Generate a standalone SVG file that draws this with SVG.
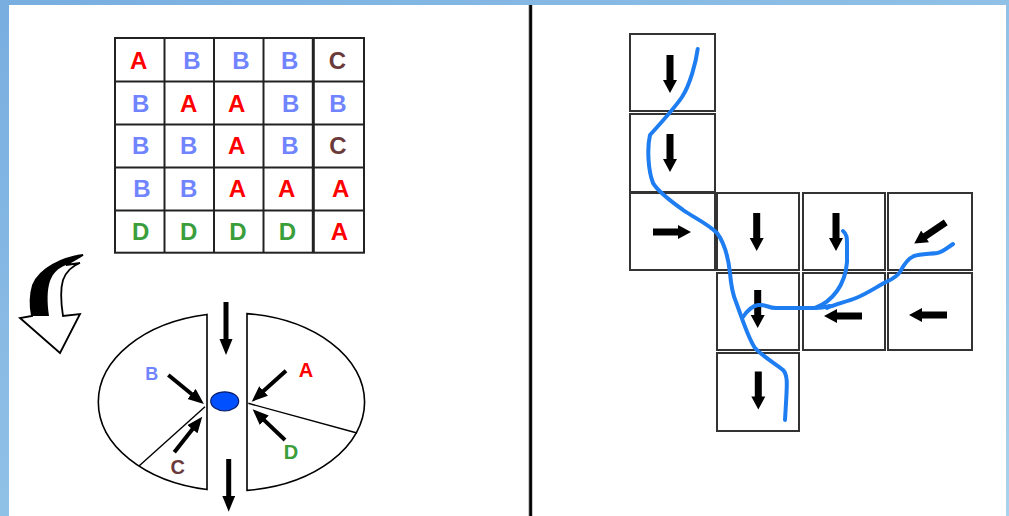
<svg xmlns="http://www.w3.org/2000/svg" xmlns:xlink="http://www.w3.org/1999/xlink" width="1009" height="516" viewBox="0 0 1009 516">
  <defs>
    <linearGradient id="bg" x1="0" y1="0" x2="1" y2="1">
      <stop offset="0" stop-color="#78AEE0"/>
      <stop offset="1" stop-color="#A8D3EC"/>
    </linearGradient>
    <marker id="ah" markerUnits="userSpaceOnUse" markerWidth="18" markerHeight="14" refX="2" refY="6.5" orient="auto">
      <path d="M0,0 L16,6.5 L0,13 Z" fill="#000"/>
    </marker>
    <path id="blk" d="M-3.5,-19 L3.5,-19 L3.5,6 L7,6 L0,19 L-7,6 L-3.5,6 Z" fill="#000"/>
    <style>
      .cell { fill: #fff; stroke: #222; stroke-width: 2; }
      .box { fill: #fff; stroke: #333; stroke-width: 2; }
      .lt { font-family: "Liberation Sans", Arial, sans-serif; font-weight: bold; font-size: 24px; text-anchor: middle; }
      .lb { font-family: "Liberation Sans", Arial, sans-serif; font-weight: bold; text-anchor: middle; }
      .ra { fill: #FF0000; }
      .bb { fill: #7084FF; }
      .cc { fill: #6B3A3A; }
      .dd { fill: #3A9E3A; }
      .flow { fill: none; stroke: #1E7DF0; stroke-width: 4; stroke-linecap: round; stroke-linejoin: round; }
      .arr { fill: none; stroke: #000; marker-end: url(#ah); }
      .half { fill: #fff; stroke: #000; stroke-width: 1.6; }
    </style>
  </defs>

  <!-- background frame -->
  <rect x="0" y="0" width="1009" height="516" fill="url(#bg)"/>
  <rect x="9" y="5" width="997" height="511" fill="#fff"/>
  <!-- divider -->
  <rect x="528.5" y="5" width="4" height="511" fill="#999"/>
  <rect x="529.3" y="5" width="2.6" height="511" fill="#000"/>

  <!-- letter grid -->
  <g id="grid">
    <rect class="cell" x="115" y="38" width="249" height="214.7"/>
    <g stroke="#222" stroke-width="2">
      <line x1="164.5" y1="38" x2="164.5" y2="252.7"/>
      <line x1="214" y1="38" x2="214" y2="252.7"/>
      <line x1="263.5" y1="38" x2="263.5" y2="252.7"/>
      <line x1="313.3" y1="38" x2="313.3" y2="252.7" stroke-width="3"/>
      <line x1="115" y1="81.5" x2="364" y2="81.5"/>
      <line x1="115" y1="124.5" x2="364" y2="124.5"/>
      <line x1="115" y1="167.5" x2="364" y2="167.5"/>
      <line x1="115" y1="210.5" x2="364" y2="210.5"/>
    </g>
    <text class="lt ra" x="138.7" y="69.3">A</text>
    <text class="lt bb" x="192" y="69.3">B</text>
    <text class="lt bb" x="241" y="69.3">B</text>
    <text class="lt bb" x="289.7" y="69.3">B</text>
    <text class="lt cc" x="337.5" y="69.3">C</text>

    <text class="lt bb" x="140.7" y="112">B</text>
    <text class="lt ra" x="188.7" y="112">A</text>
    <text class="lt ra" x="236.7" y="112">A</text>
    <text class="lt bb" x="290.7" y="112">B</text>
    <text class="lt bb" x="338" y="112">B</text>

    <text class="lt bb" x="140.7" y="153.6">B</text>
    <text class="lt bb" x="188.7" y="153.6">B</text>
    <text class="lt ra" x="236.7" y="153.6">A</text>
    <text class="lt bb" x="290" y="153.6">B</text>
    <text class="lt cc" x="338" y="153.6">C</text>

    <text class="lt bb" x="142" y="197">B</text>
    <text class="lt bb" x="188.7" y="197">B</text>
    <text class="lt ra" x="237.3" y="197">A</text>
    <text class="lt ra" x="286.7" y="197">A</text>
    <text class="lt ra" x="340.7" y="197">A</text>

    <text class="lt dd" x="140.7" y="240.3">D</text>
    <text class="lt dd" x="188.7" y="240.3">D</text>
    <text class="lt dd" x="238" y="240.3">D</text>
    <text class="lt dd" x="287.3" y="240.3">D</text>
    <text class="lt ra" x="339.3" y="240.3">A</text>
  </g>

  <!-- curved transition arrow -->
  <g id="curved-arrow">
    <path d="M83,255 C62,258 40,268 33,285 C30,295 30,306 32,316 L20,318 L60,353 L80,314 L63,316 C61,303 60,290 63,280 C66,272 72,266 80,263 L66,265 Z" fill="#fff" stroke="#000" stroke-width="1.8" stroke-linejoin="miter"/>
    <path d="M83,255 C62,258 40,268 33,285 C30,295 30,306 32,316 L49,316 C47,302 47,290 50,281 C53,273 58,268 66,265 Z" fill="#000"/>
  </g>

  <!-- intersection -->
  <g id="intersection">
    <path class="half" d="M207,314.5 A133,89 0 0 0 207,489.5 Z"/>
    <path class="half" d="M247,313.6 A133,89 0 0 1 247,490.4 Z"/>
    <line x1="205" y1="406.7" x2="139" y2="466" stroke="#000" stroke-width="1.4"/>
    <line x1="248.3" y1="403.3" x2="357" y2="433" stroke="#000" stroke-width="1.4"/>
    <ellipse id="vehicle" cx="224.7" cy="401.3" rx="14" ry="9.5" fill="#0050FF" stroke="#0A1E6E" stroke-width="1.2"/>
    <text class="lb bb" x="151.7" y="380" font-size="18">B</text>
    <text class="lb ra" x="306" y="376.5" font-size="20">A</text>
    <text class="lb cc" x="177.7" y="474" font-size="20">C</text>
    <text class="lb dd" x="291" y="459" font-size="20">D</text>
  </g>

  <!-- right side boxes -->
  <g id="cell-r0c0"><rect class="box" x="630" y="34" width="85" height="77"/><use xlink:href="#blk" transform="translate(670,74)"/></g>
  <g id="cell-r1c0"><rect class="box" x="630" y="114" width="85" height="78"/><use xlink:href="#blk" transform="translate(670,153)"/></g>
  <g id="cell-r2c0"><rect class="box" x="630" y="193" width="85" height="77"/><use xlink:href="#blk" transform="translate(672,232) rotate(-90)"/></g>
  <g id="cell-r2c1"><rect class="box" x="717" y="193" width="82" height="77"/><use xlink:href="#blk" transform="translate(756.7,232)"/></g>
  <g id="cell-r2c2"><rect class="box" x="803" y="193" width="82" height="77"/><use xlink:href="#blk" transform="translate(836,232)"/></g>
  <g id="cell-r2c3"><rect class="box" x="888" y="193" width="84" height="77"/><use xlink:href="#blk" transform="translate(930,233) rotate(56)"/></g>
  <g id="cell-r3c1"><rect class="box" x="717" y="273" width="82" height="77"/><use xlink:href="#blk" transform="translate(757.7,309)"/></g>
  <g id="cell-r3c2"><rect class="box" x="803" y="273" width="82" height="77"/><use xlink:href="#blk" transform="translate(843,316) rotate(90)"/></g>
  <g id="cell-r3c3"><rect class="box" x="888" y="273" width="84" height="77"/><use xlink:href="#blk" transform="translate(928,315) rotate(90)"/></g>
  <g id="cell-r4c1"><rect class="box" x="717" y="353" width="82" height="78"/><use xlink:href="#blk" transform="translate(758.3,390.5)"/></g>

  <!-- connectors -->
  <g id="connectors">
    <line class="arr" x1="226" y1="302" x2="226" y2="341" stroke-width="5"/>
    <line class="arr" x1="228.7" y1="459" x2="228.7" y2="497.7" stroke-width="5"/>
    <line class="arr" x1="168.3" y1="375" x2="193.1" y2="395.2" stroke-width="4"/>
    <line class="arr" x1="286" y1="370.7" x2="262.1" y2="392.3" stroke-width="4"/>
    <line class="arr" x1="174.3" y1="452.3" x2="193.6" y2="427.7" stroke-width="4"/>
    <line class="arr" x1="285" y1="440" x2="262.8" y2="418.9" stroke-width="4"/>

    <path class="flow" d="M697.7,49 C696,62 690,85 682,97 C676,106 660,124 650,135 C647,148 648,170 653,183 C658,192 672,202 683,210 C693,217 708,224 717,233 C723,241 728,255 730,273 C731,285 733,295 736,302 C742,318 748,338 755,348 C762,356 776,364 783,370 C788,375 787,385 786,403 L785,420"/>
    <path class="flow" d="M843,231 C847,234 847,238 847,245 L847,262 C846,275 842,284 837,291 C832,298 826,304 815,308"/>
    <path class="flow" d="M743,317 C747,311 752,306 758,305 C765,304 768,308 776,308 L815,308 C822,308 826,307 830,306"/>
    <path class="flow" d="M953,244 C947,248 943,252 937,253 C930,254 920,254 914,256 C907,259 903,266 900,272 C896,278 890,280 884,283 C875,288 866,294 856,298 C846,302 836,304 827,308"/>
  </g>
</svg>
